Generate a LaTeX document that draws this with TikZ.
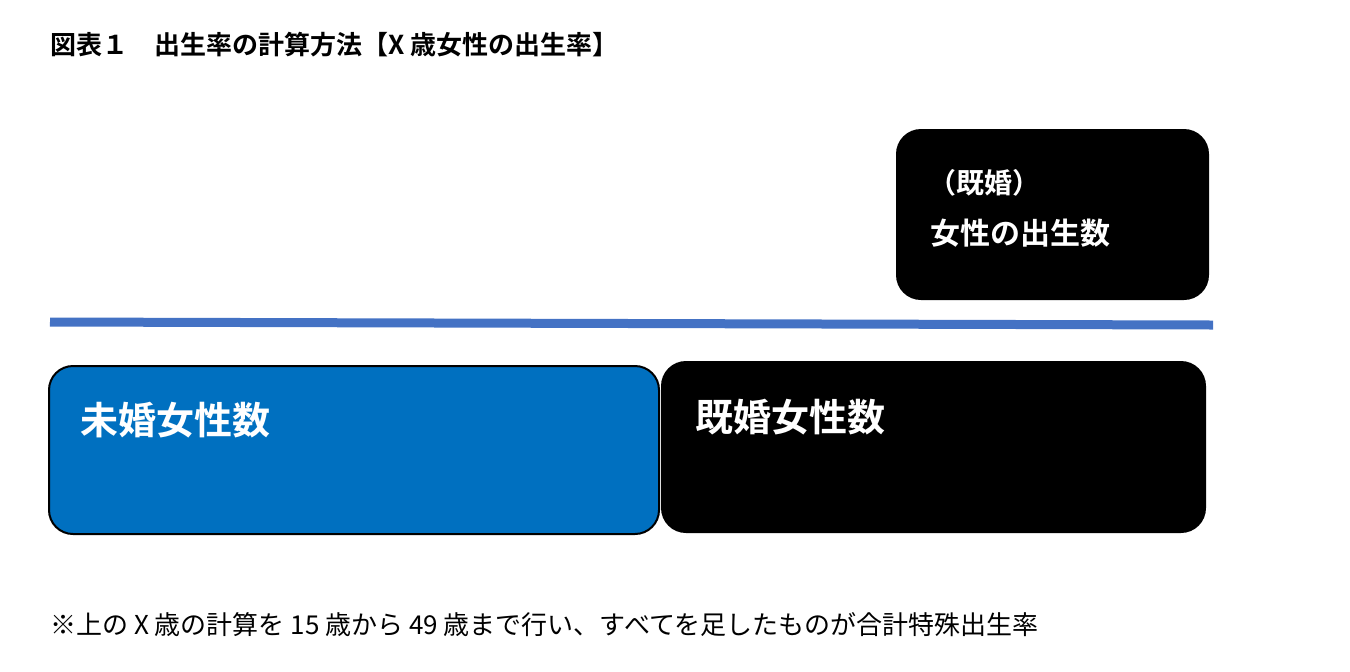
\documentclass[tikz,border=0pt]{standalone}
\usepackage{fontspec}
\newfontfamily\jp{Noto Sans CJK JP}
\newfontfamily\jpb{Noto Sans CJK JP Bold}
\definecolor{boxblue}{HTML}{0070C0}
\definecolor{lineblue}{HTML}{4472C4}
\begin{document}
\begin{tikzpicture}[x=0.5pt,y=-0.5pt,
  rbox/.style={rounded corners=12pt,draw=black,line width=1pt},
  wtext/.style={text=white,anchor=west,inner sep=0pt}]
\useasboundingbox (0,0) rectangle (1350,671);
\node[anchor=west,inner sep=0] (title) at (50,45) {\jpb\fontsize{13pt}{15pt}\selectfont 図表１　出生率の計算方法【X 歳女性の出生率】};
\draw[rbox,fill=black] (897,130) rectangle (1208,299);
\node[wtext] (t1) at (928,183) {\jpb\fontsize{14pt}{16pt}\selectfont （既婚）};
\node[wtext] (t2) at (930,233) {\jpb\fontsize{15pt}{17pt}\selectfont 女性の出生数};
\draw[lineblue,line width=4.5pt] (50,322) -- (1213,325);
\draw[rbox,fill=boxblue] (49,366) rectangle (659,534);
\node[wtext] (a) at (80,420) {\jpb\fontsize{19pt}{21pt}\selectfont 未婚女性数};
\draw[rbox,fill=black] (662,362) rectangle (1205,532);
\node[wtext] (b) at (695,417) {\jpb\fontsize{19pt}{21pt}\selectfont 既婚女性数};
\node[anchor=west,inner sep=0] (note) at (50,625) {\jp\fontsize{13pt}{15pt}\selectfont ※上の X 歳の計算を 15 歳から 49 歳まで行い、すべてを足したものが合計特殊出生率};
\end{tikzpicture}
\end{document}
